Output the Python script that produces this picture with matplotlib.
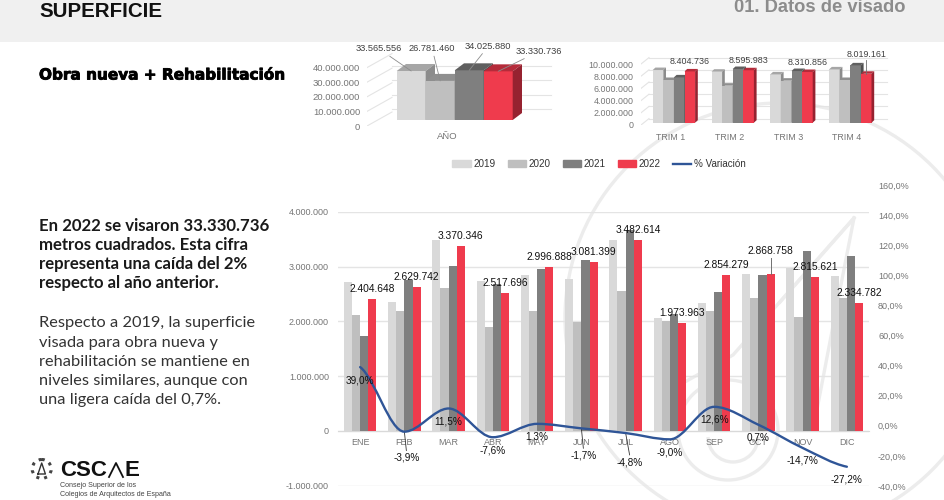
import matplotlib
matplotlib.use("Agg")
import matplotlib.pyplot as plt
from matplotlib import patheffects
from matplotlib.patches import Polygon, Circle, Arc, Rectangle, PathPatch
from matplotlib.path import Path

W, H = 944, 500

years = ["2019", "2020", "2021", "2022"]
months = ["ENE", "FEB", "MAR", "ABR", "MAY", "JUN", "JUL", "AGO", "SEP", "OCT", "NOV", "DIC"]
quarters = ["TRIM 1", "TRIM 2", "TRIM 3", "TRIM 4"]

# monthly surface, m2
m_2019 = [2720000, 2350000, 3480000, 2740000, 2845000, 2780000, 3480000, 2070000, 2330000, 2875000, 2985000, 2830000]
m_2020 = [2115000, 2190000, 2620000, 1900000, 2190000, 1990000, 2560000, 2010000, 2200000, 2420000, 2085000, 2430000]
m_2021 = [1726000, 2750000, 3020000, 2690000, 2950000, 3130000, 3665000, 2130000, 2535000, 2845000, 3295000, 3200000]
m_2022 = [2404648, 2629742, 3370346, 2517696, 2996888, 3081399, 3482614, 1973963, 2854279, 2868758, 2815621, 2334782]
variation = [39.0, -3.9, 11.5, -7.6, 1.3, -1.7, -4.8, -9.0, 12.6, 0.7, -14.7, -27.2]

# quarterly surface
q_2019 = [8630000, 8360000, 7920000, 8740000]
q_2020 = [7000000, 6070000, 6890000, 7000000]
q_2021 = [7430000, 8800000, 8470000, 9400000]
q_2022 = [8404736, 8595983, 8310856, 8019161]

# yearly surface
y_totals = [33565556, 26781460, 34025880, 33330736]

FRONT = ["#d9d9d9", "#bfbfbf", "#7f7f7f", "#ef3b4d"]
TOP = ["#a6a6a6", "#8f8f8f", "#5f5f5f", "#b52b3a"]
SIDE = ["#8c8c8c", "#808080", "#4f4f4f", "#962230"]
TICK = "#757575"
GRID = "#e4e4e4"
WATER = "#ececec"


def es(v):
    return f"{v:,.0f}".replace(",", ".")


def pct(v):
    return f"{v:.1f}%".replace(".", ",")


def box(fig, l, t, r, b, **kw):
    return fig.add_axes([l / W, 1 - b / H, (r - l) / W, (b - t) / H], **kw)


plt.rcParams["font.family"] = ["Liberation Sans", "DejaVu Sans"]
fig = plt.figure(figsize=(W / 100, H / 100), dpi=100)

# background, header and watermark
bg = box(fig, 0, 0, W, H)
bg.set_xlim(0, W)
bg.set_ylim(H, 0)
bg.axis("off")
bg.add_patch(Rectangle((0, 0), W, 42, fc="#f0f0f0", ec="none"))
bg.add_patch(Circle((780, 318), 215, fc="none", ec=WATER, lw=2.4))
bg.add_patch(Circle((728, 430), 50, fc="none", ec=WATER, lw=2.4))
bg.add_patch(Arc((733, 437), 50, 50, theta1=0, theta2=180, ec=WATER, lw=2.4))
bg.plot([854, 733, 683], [218, 355, 383], color=WATER, lw=2.4)
bg.plot([854, 837, 815], [218, 305, 420], color=WATER, lw=2.4)
bg.plot([780, 854], [302, 218], color=WATER, lw=2.4)

bg.text(39, 11.5, "SUPERFICIE", fontsize=14.8, fontweight="bold", color="#111111", va="center")
bg.text(905, 8, "01. Datos de visado", fontsize=13.2, fontweight="bold", color="#8c8c8c", va="center", ha="right")
bg.text(39, 75, "Obra nueva + Rehabilitación", fontsize=11, fontweight="bold", color="black", va="center",
        family="DejaVu Sans", path_effects=[patheffects.withStroke(linewidth=0.6, foreground="black")])

for i, line in enumerate(["En 2022 se visaron 33.330.736", "metros cuadrados. Esta cifra",
                          "representa una caída del 2%", "respecto al año anterior."]):
    bg.text(39, 226 + i * 19.1, line, fontsize=12.1, fontweight="bold", color="#1a1a1a", va="center", family="Lato")
for i, line in enumerate(["Respecto a 2019, la superficie", "visada para obra nueva y",
                          "rehabilitación se mantiene en", "niveles similares, aunque con",
                          "una ligera caída del 0,7%."]):
    bg.text(39, 323.3 + i * 19.2, line, fontsize=11.8, color="#333333", va="center", family="Lato")

# logo
bg.add_patch(Circle((41.7, 469), 9.5, fc="none", ec="#444444", lw=2.2, ls=":"))
bg.plot([38, 41.7, 45.4, 38], [474, 463, 474, 474], color="#333333", lw=1)
bg.text(60, 470, "CSC", fontsize=16, fontweight="bold", color="#111111", va="center")
bg.plot([109, 116, 123], [477, 463, 477], color="#111111", lw=1.3)
bg.text(124, 470, "E", fontsize=16, fontweight="bold", color="#111111", va="center")
bg.text(60, 485.7, "Consejo Superior de los", fontsize=5.1, color="#444444", va="center")
bg.text(60, 494, "Colegios de Arquitectos de España", fontsize=5.1, color="#444444", va="center")


def bars3d(ax, xs, values, width, ci, floor, ddx, ddy):
    ax.bar(xs, values, width, bottom=floor, align="edge", color=FRONT[ci], zorder=3)
    for x, v in zip(xs, values):
        top = floor + v
        ax.add_patch(Polygon([(x, top), (x + width, top), (x + width + ddx, top + ddy), (x + ddx, top + ddy)],
                             fc=TOP[ci], ec="none", zorder=3))
        ax.add_patch(Polygon([(x + width, floor), (x + width + ddx, floor + ddy), (x + width + ddx, top + ddy), (x + width, top)],
                             fc=SIDE[ci], ec="none", zorder=3))


def panel(l, t, r, b, xlim, ymax, yticks, tick_fs, pad):
    ax = box(fig, l, t, r, b)
    ax.patch.set_alpha(0)
    ax.set_xlim(*xlim)
    ax.set_ylim(0, ymax)
    for s in ax.spines.values():
        s.set_visible(False)
    ax.set_yticks(yticks)
    ax.set_yticklabels([es(v) for v in yticks], fontsize=tick_fs, color=TICK)
    ax.tick_params(axis="both", length=0, pad=pad)
    return ax


# yearly chart: bar unit = 1 bar, 29 px
px = 1 / 29
vp = 10000000 / 14.6
a1 = panel(367, 50, 560, 126, (-(396.7 - 367) * px, (560 - 396.7) * px), 76 * vp, [0, 10000000, 20000000, 30000000, 40000000], 6.8, 5)
a1.set_xticks([1.75])
a1.set_xticklabels(["AÑO"], fontsize=6.8, color=TICK)
a1.tick_params(axis="x", pad=4)
for v in [0, 10000000, 20000000, 30000000, 40000000]:
    a1.plot([(367 - 396.7) * px, (392 - 396.7) * px], [v, v + 14 * vp], color=GRID, lw=0.8, zorder=1)
    if v:
        back = 4 * vp + v - 2 * vp
        a1.plot([(392 - 396.7) * px, (551 - 396.7) * px], [back, back], color=GRID, lw=0.8, zorder=1)
for ci in range(4):
    bars3d(a1, [ci], [y_totals[ci]], 1, ci, 6 * vp, 9.3 * px, 7 * vp)
lab1 = [(-32, 22), (-8, 32), (19, 24), (41, 20)]
for ci, v in enumerate(y_totals):
    a1.annotate(es(v), (ci + 0.5, 6 * vp + v), xytext=lab1[ci], textcoords="offset pixels", ha="center", va="center",
                fontsize=6.7, color="#404040", zorder=5,
                arrowprops=dict(arrowstyle="-", color="#8c8c8c", lw=0.6, shrinkA=0, shrinkB=0))

# quarterly chart: x unit = category spacing, 58.8 px
qx = 1 / 58.8
qb = 10.6 * qx
qvp = 1000000 / 6.1
a2 = panel(641, 50, 890, 125, (-(652.7 - 641) * qx, (890 - 652.7) * qx), 75 * qvp, [0, 2000000, 4000000, 6000000, 8000000, 10000000], 6.4, 5.5)
a2.set_xticks([i + 1.7 * qb for i in range(4)])
a2.set_xticklabels(quarters, fontsize=6.4, color=TICK)
a2.tick_params(axis="x", pad=5.5)
for v in [0, 2000000, 4000000, 6000000, 8000000, 10000000]:
    a2.plot([(641 - 652.7) * qx, (649 - 652.7) * qx], [v, v + 6.4 * qvp], color=GRID, lw=0.8, zorder=1)
    a2.plot([(649 - 652.7) * qx, (887 - 652.7) * qx], [v + 6.4 * qvp, v + 6.4 * qvp], color=GRID, lw=0.8, zorder=1)
for ci, series in enumerate([q_2019, q_2020, q_2021, q_2022]):
    bars3d(a2, [i + ci * qb for i in range(4)], series, qb, ci, 2.3 * qvp, 2.7 * qx, 2.5 * qvp)
for i, v in enumerate(q_2022):
    up = 19 if i == 3 else 10
    a2.annotate(es(v), (i + 3.5 * qb, 2.3 * qvp + v), xytext=(0, up), textcoords="offset pixels", ha="center", va="center",
                fontsize=6.4, color="#404040", zorder=5)
a2.plot([3 + 3.5 * qb, 3 + 3.5 * qb], [2.3 * qvp + q_2022[3], 2.3 * qvp + q_2022[3] + 14 * qvp], color="#707070", lw=0.6, zorder=5)

# monthly chart
ax = box(fig, 338, 212, 869, 485.7)
ax.patch.set_alpha(0)
ax.set_xlim(-0.5, 11.5)
ax.set_ylim(-1000000, 4000000)
ax.spines["bottom"].set_position(("data", 0))
ax.spines["bottom"].set_color("#d9d9d9")
for s in ["top", "left", "right"]:
    ax.spines[s].set_visible(False)
bw = 0.184
for ci, series in enumerate([m_2019, m_2020, m_2021, m_2022]):
    ax.bar([i + (ci - 1.5) * bw for i in range(12)], series, bw, color=FRONT[ci], zorder=3, label=years[ci])
ax.set_yticks(range(-1000000, 4000001, 1000000))
ax.set_yticklabels([es(v) for v in range(-1000000, 4000001, 1000000)], fontsize=6.5, color=TICK)
ax.set_xticks(range(12))
ax.set_xticklabels(months, fontsize=6.5, color=TICK)
ax.tick_params(axis="both", length=0)
ax.tick_params(axis="y", pad=6.5)
ax.tick_params(axis="x", pad=5)
ax.grid(axis="y", color=GRID, lw=1, zorder=0)
ax.set_axisbelow(True)

for i, v in enumerate(m_2022):
    up = 23 if months[i] == "OCT" else 10
    ax.annotate(es(v), (i + 1.5 * bw, v), xytext=(0, up), textcoords="offset pixels", ha="center", va="center",
                fontsize=7.4, color="#111111", zorder=6)
ax.plot([9 + 1.5 * bw, 9 + 1.5 * bw], [m_2022[9], m_2022[9] + 300000], color="#707070", lw=0.7, zorder=5)

# % variation on its own taller axis
ax2 = box(fig, 338, 185, 869, 486)
ax2.patch.set_alpha(0)
ax2.set_xlim(-0.5, 11.5)
ax2.set_ylim(-40, 160)
ax2.set_xticks([])
ax2.yaxis.tick_right()
ax2.set_yticks(range(-40, 161, 20))
ax2.set_yticklabels([pct(v) for v in range(-40, 161, 20)], fontsize=6.5, color=TICK)
ax2.tick_params(axis="y", length=0, pad=6.5)
for s in ax2.spines.values():
    s.set_visible(False)

# smoothed line through the values, flat at local peaks so it does not overshoot
slopes = []
for i in range(12):
    left = variation[max(i - 1, 0)]
    right = variation[min(i + 1, 11)]
    mid = variation[i]
    if 0 < i < 11 and (mid - left) * (right - mid) < 0:
        slopes.append(0)
    else:
        slopes.append((right - left) / 2)
verts = [(0, variation[0])]
codes = [Path.MOVETO]
for i in range(11):
    verts += [(i + 1 / 3, variation[i] + slopes[i] / 3), (i + 2 / 3, variation[i + 1] - slopes[i + 1] / 3), (i + 1, variation[i + 1])]
    codes += [Path.CURVE4] * 3
ax2.add_patch(PathPatch(Path(verts, codes), fc="none", ec="#2f5597", lw=1.7, zorder=4, capstyle="round"))

drop = {"FEB": 26, "JUN": 27, "JUL": 29}
for i, v in enumerate(variation):
    d = drop.get(months[i], 13)
    dx = 4 if months[i] == "JUL" else 2 if months[i] in drop else 0
    ax2.annotate(pct(v), (i, v), xytext=(dx, -d), textcoords="offset pixels", ha="center", va="center",
                 fontsize=7.2, color="#111111", zorder=6)
    if months[i] in drop:
        ax2.annotate("", (i, v), xytext=(dx, -d + 7), textcoords="offset pixels",
                     arrowprops=dict(arrowstyle="-", color="#333333", lw=0.6, shrinkA=0, shrinkB=0))

# shared legend
handles = [Rectangle((0, 0), 1, 1, color=c) for c in FRONT] + [plt.Line2D([0], [0], color="#2f5597", lw=1.7)]
fig.legend(handles, years + ["% Variación"], loc="center", bbox_to_anchor=(599 / W, 1 - 164 / H), ncol=5, frameon=False,
           fontsize=7.1, handlelength=1.9, handleheight=0.6, handletextpad=0.25, columnspacing=1.2, labelcolor="#333333")

fig.savefig("out.png", dpi=100)
